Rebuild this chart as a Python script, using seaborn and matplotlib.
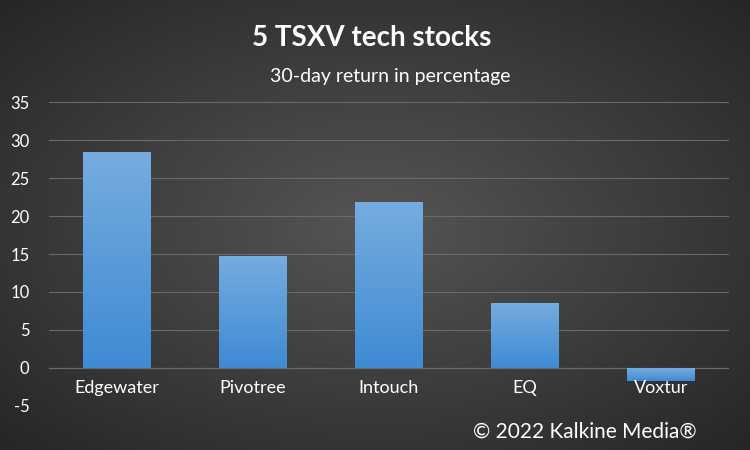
import matplotlib
matplotlib.use("Agg")
import matplotlib.pyplot as plt
import numpy as np
import pandas as pd
import seaborn as sns

companies = ["Edgewater", "Pivotree", "Intouch", "EQ", "Voxtur"]
returns = [28.5, 14.8, 21.8, 8.6, -1.7]
y_ticks = [-5, 0, 5, 10, 15, 20, 25, 30, 35]

df = pd.DataFrame({"company": companies, "ret": returns})
plt.rcParams["font.family"] = "Lato"

fig = plt.figure(figsize=(7.5, 4.5), dpi=100)

# radial gradient background
bg = fig.add_axes([0, 0, 1, 1], zorder=0)
yy, xx = np.mgrid[-1:1:300j, -1:1:500j]
r = np.sqrt(xx ** 2 + yy ** 2)
bg.imshow(-r, cmap=matplotlib.colors.LinearSegmentedColormap.from_list(
    "bg", ["#262626", "#555555"]), aspect="auto", extent=[0, 1, 0, 1])
bg.axis("off")

ax = fig.add_axes([49 / 750, 0.098, 680 / 750, 0.675], zorder=1)
ax.patch.set_alpha(0)
sns.barplot(data=df, x="company", y="ret", ax=ax, width=0.5,
            color="#5b9bd5", saturation=1, zorder=2)

# vertical gradient on bars
grad = np.linspace(0, 1, 100).reshape(-1, 1)
cmap_bar = matplotlib.colors.LinearSegmentedColormap.from_list(
    "bar", ["#3f8bd3", "#76acdf"])
for p in ax.patches:
    x0, y0 = p.get_x(), p.get_y()
    w, h = p.get_width(), p.get_height()
    im = ax.imshow(grad, cmap=cmap_bar, origin="lower", aspect="auto",
                   extent=[x0, x0 + w, min(y0, y0 + h), max(y0, y0 + h)], zorder=3)
    im.set_clip_path(p)

ax.set_xlim(-0.5, 4.5)
ax.set_ylim(-5, 35)
ax.set_yticks(y_ticks)
ax.set_yticklabels([str(t) for t in y_ticks], color="white", fontsize=12)
ax.yaxis.set_tick_params(length=0, pad=14)
ax.grid(axis="y", color="#6a6a6a", linewidth=0.8, zorder=0)
ax.axhline(0, color="#8a8a8a", linewidth=0.8, zorder=1)
ax.set_xticks([])
ax.set_xlabel("")
ax.set_ylabel("")
for s in ax.spines.values():
    s.set_visible(False)

for i, name in enumerate(companies):
    ax.text(i, -1.6, name, ha="center", va="top", color="white", fontsize=13, zorder=4)

fig.text(0.495, 0.915, "5 TSXV tech stocks", ha="center", va="center",
         color="white", fontsize=20, fontweight="bold")
fig.text(0.52, 0.83, "30-day return in percentage", ha="center", va="center",
         color="white", fontsize=14)
fig.text(0.78, 0.04, "© 2022 Kalkine Media®", ha="center", va="center",
         color="white", fontsize=15)

fig.savefig("out.png", dpi=100)
